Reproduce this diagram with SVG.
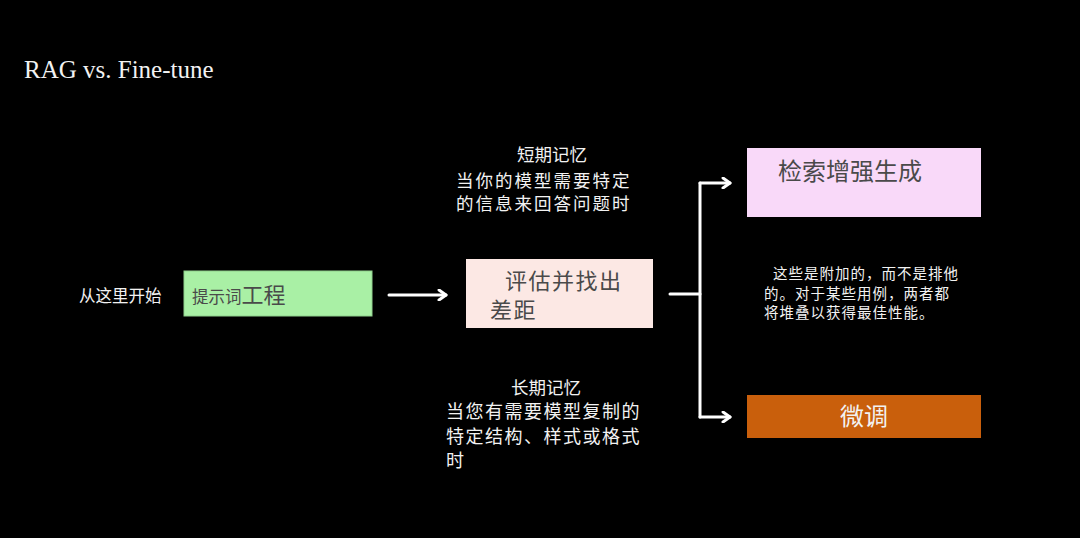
<svg xmlns="http://www.w3.org/2000/svg" width="1080" height="538" viewBox="0 0 1080 538">
<style>
.w{fill:#f2f2f2;font-family:"Noto Sans CJK SC","Noto Sans",sans-serif}
.d{fill:#4a4a4a;font-family:"Noto Sans CJK SC","Noto Sans",sans-serif}
.m{font-size:18px;letter-spacing:1.5px}
.s{font-size:17.5px;letter-spacing:2px}
.n{font-size:14.5px;letter-spacing:1px}
.e{font-size:22px;letter-spacing:1.5px}
.c{fill:none;stroke:#ffffff;stroke-width:3;stroke-linecap:round;stroke-linejoin:round}
</style>
<defs>
<marker id="ah" viewBox="0 0 12 12" refX="10" refY="6" markerWidth="12" markerHeight="12" markerUnits="userSpaceOnUse" orient="auto">
<path d="M3,1 L10,6 L3,11" fill="none" stroke="#ffffff" stroke-width="3" stroke-linecap="round" stroke-linejoin="round"/>
</marker>
</defs>
<rect width="1080" height="538" fill="#000000"/>
<text x="24" y="78" font-family="Liberation Serif,serif" font-size="25" fill="#f2f2f2">RAG vs. Fine-tune</text>
<g id="start"><text class="w" x="79" y="302" font-size="16.5">从这里开始</text></g>
<g id="prompt">
<rect x="184" y="271" width="188" height="45" fill="#a9f0a5" stroke="#8fd08c" stroke-width="1"/>
<text class="d" x="192" y="303" font-size="16.5">提示词<tspan font-size="22">工程</tspan></text>
</g>
<g id="evaluate">
<rect x="466" y="259" width="187" height="69" fill="#fce8e4"/>
<text class="d e" x="505" y="289">评估并找出</text>
<text class="d e" x="490" y="318">差距</text>
</g>
<g id="short">
<text class="w" x="517" y="161" font-size="17.5">短期记忆</text>
<text class="w s" x="456" y="187">当你的模型需要特定</text>
<text class="w s" x="456" y="210">的信息来回答问题时</text>
</g>
<g id="long">
<text class="w" x="511" y="394" font-size="17.5">长期记忆</text>
<text class="w m" x="446" y="418">当您有需要模型复制的</text>
<text class="w m" x="446" y="443">特定结构、样式或格式</text>
<text class="w m" x="446" y="467">时</text>
</g>
<g id="rag">
<rect x="747" y="148" width="234" height="69" fill="#f9d9f9"/>
<text class="d" x="778" y="180" font-size="24" fill="#5a4a5a">检索增强生成</text>
</g>
<g id="note">
<text class="w n" x="773" y="279">这些是附加的，而不是排他</text>
<text class="w n" x="764" y="299">的。对于某些用例，两者都</text>
<text class="w n" x="764" y="318">将堆叠以获得最佳性能。</text>
</g>
<g id="finetune">
<rect x="747" y="395" width="234" height="43" fill="#c95f0c"/>
<text class="w" x="840" y="425" font-size="24">微调</text>
</g>
<g id="connectors">
<path class="c" d="M389,295 L446,295" marker-end="url(#ah)"/>
<path class="c" d="M670,294 L700,294"/>
<path class="c" d="M700,183 L700,417"/>
<path class="c" d="M700,183 L730,183" marker-end="url(#ah)"/>
<path class="c" d="M700,417 L730,417" marker-end="url(#ah)"/>
</g>
</svg>
